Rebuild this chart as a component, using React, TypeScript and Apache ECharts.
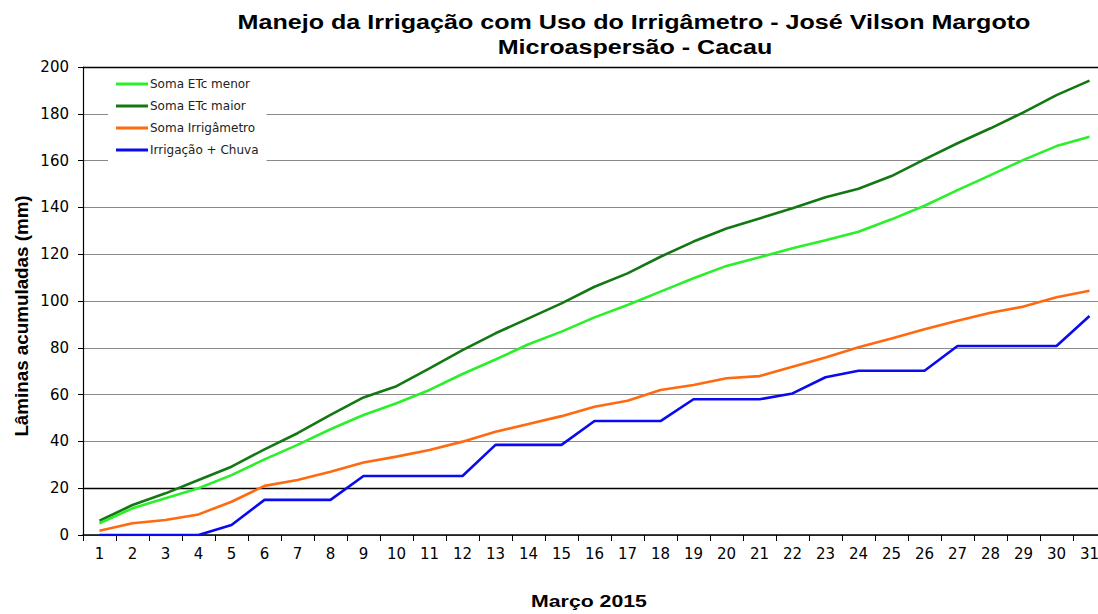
import React, { useEffect, useRef } from "react";
import * as echarts from "echarts";

const days = Array.from({ length: 31 }, (_, i) => String(i + 1));

const etcMenor = [5, 11.4, 15.7, 20, 25.6, 32.3, 38.5, 45.2, 51.3, 56.3, 62, 68.8, 75, 81.5, 86.9, 93, 98.3, 104, 109.7, 115, 118.7, 122.5, 126, 129.6, 134.9, 140.7, 147.4, 153.8, 160.3, 166.2, 170.2];
const etcMaior = [6.1, 12.8, 17.8, 23.5, 29.2, 36.6, 43.5, 51.3, 58.8, 63.6, 71.2, 79, 86.2, 92.6, 99, 106.1, 111.8, 118.9, 125.4, 131, 135.3, 139.6, 144.3, 148, 153.4, 160.5, 167.4, 173.8, 180.6, 188, 194.2];
const somaIrrigametro = [1.8, 5, 6.4, 8.8, 14.2, 21, 23.5, 27, 31, 33.5, 36.3, 39.9, 44.1, 47.4, 50.8, 54.8, 57.4, 62, 64.1, 67, 67.9, 71.9, 75.9, 80.2, 84, 87.9, 91.6, 95, 97.6, 101.6, 104.4];
const irrigacaoChuva = [0, 0, 0, 0, 4.3, 15, 15, 15, 25.2, 25.2, 25.2, 25.2, 38.5, 38.5, 38.5, 48.7, 48.7, 48.7, 58, 58, 58, 60.5, 67.4, 70.2, 70.2, 70.2, 80.8, 80.8, 80.8, 80.8, 93.6];

const seriesNames = ["Soma ETc menor", "Soma ETc maior", "Soma Irrigâmetro", "Irrigação + Chuva"];
const seriesColors = ["#2af02a", "#137813", "#ff6a10", "#0a0aee"];
const seriesData = [etcMenor, etcMaior, somaIrrigametro, irrigacaoChuva];

const titleLine1 = "Manejo da Irrigação com Uso do Irrigâmetro - José Vilson Margoto";
const titleLine2 = "Microaspersão - Cacau";
const yName = "Lâminas acumuladas (mm)";
const xName = "Março 2015";

const FONT = "'Liberation Sans', Arial, sans-serif";
const TICKFONT = "'DejaVu Sans', sans-serif";

export default function App() {
  const ref = useRef<HTMLDivElement>(null);
  useEffect(() => {
    if (!ref.current) return;
    const chart = echarts.init(ref.current, null, { renderer: "svg" });
    const bold = (size: number) => ({
      fontFamily: FONT,
      fontSize: size,
      fontWeight: "bold",
      fill: "#000",
      textAlign: "center",
      textVerticalAlign: "middle",
    });
    chart.setOption({
      animation: false,
      backgroundColor: "#ffffff",
      textStyle: { fontFamily: FONT },
      graphic: [
        { type: "text", x: 634, y: 22, scaleX: 1.196, style: { text: titleLine1, ...bold(21) } },
        { type: "text", x: 635, y: 47, scaleX: 1.196, style: { text: titleLine2, ...bold(21) } },
        { type: "text", x: 22, y: 316, rotation: Math.PI / 2, scaleX: 1.045, style: { text: yName, ...bold(18) } },
        { type: "text", x: 589, y: 601, scaleX: 1.33, style: { text: xName, ...bold(16) } },
      ],
      legend: {
        orient: "vertical",
        left: 108,
        top: 73,
        backgroundColor: "#ffffff",
        padding: [4, 8, 6, 8],
        itemWidth: 32,
        itemHeight: 3,
        itemGap: 8,
        icon: "rect",
        data: seriesNames,
        textStyle: { fontFamily: TICKFONT, fontSize: 12, color: "#222", lineHeight: 14, padding: [0, 0, 0, -3] },
      },
      grid: { left: 83, top: 67, width: 1023, height: 468, containLabel: false, outerBoundsMode: "none" },
      xAxis: {
        type: "category",
        data: days,
        boundaryGap: true,
        axisLine: { lineStyle: { color: "#000", width: 1.5 } },
        axisTick: { show: true, length: 6, alignWithLabel: false, lineStyle: { color: "#000" } },
        axisLabel: { color: "#000", fontSize: 15, margin: 11, fontFamily: TICKFONT },
        splitLine: { show: false },
      },
      yAxis: {
        type: "value",
        min: 0,
        max: 200,
        interval: 20,
        axisLine: { show: true, lineStyle: { color: "#000", width: 1.2 } },
        axisTick: { show: true, length: 5, lineStyle: { color: "#000" } },
        axisLabel: { color: "#000", fontSize: 15, margin: 14, fontFamily: TICKFONT },
        splitLine: { show: true, lineStyle: { color: "#8a8a8a", width: 1.2 } },
      },
      series: seriesNames.map((name, i) => ({
        name,
        type: "line",
        data: seriesData[i],
        showSymbol: false,
        symbol: "none",
        lineStyle: { color: seriesColors[i], width: 2.6 },
        itemStyle: { color: seriesColors[i] },
        z: 3 + (seriesNames.length - i),
        markLine:
          i === 0
            ? {
                silent: true,
                symbol: "none",
                label: { show: false },
                lineStyle: { color: "#000", width: 1.3, type: "solid" },
                data: [{ yAxis: 20 }, { yAxis: 200 }],
                z: 1,
              }
            : undefined,
      })),
    });
    return () => chart.dispose();
  }, []);
  return (
    <div
      ref={ref}
      style={{ position: "fixed", left: 0, top: 0, width: 1098, height: 614, background: "#fff" }}
    />
  );
}
